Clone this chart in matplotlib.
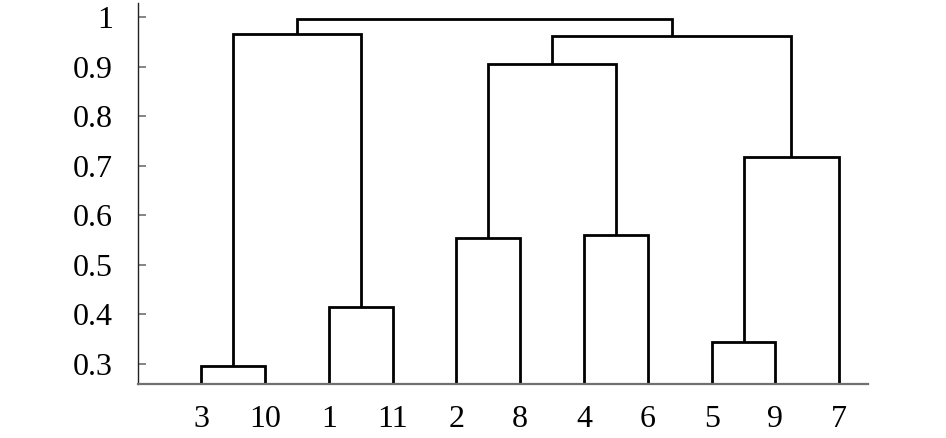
import matplotlib
matplotlib.use("Agg")
import matplotlib.pyplot as plt

# Leaf order (left to right) and their labels
leaf_labels = ["3", "10", "1", "11", "2", "8", "4", "6", "5", "9", "7"]

# Merges: (left child, right child, height). Leaves are referenced by label,
# internal nodes by "c<k>" (k = merge index).
merge_left = ["3", "1", "5", "2", "4", "c2", "c3", "c0", "c6"]
merge_right = ["10", "11", "9", "8", "6", "7", "c4", "c1", "c5"]
merge_height = [0.296, 0.416, 0.344, 0.555, 0.561, 0.718, 0.905, 0.965, 0.962]
# root merge
root_left = "c7"
root_right = "c8"
root_height = 0.995

ytick_vals = [0.3, 0.4, 0.5, 0.6, 0.7, 0.8, 0.9, 1.0]
ytick_labels = ["0.3", "0.4", "0.5", "0.6", "0.7", "0.8", "0.9", "1"]

plt.rcParams["font.family"] = ["Liberation Serif", "DejaVu Serif"]

fig = plt.figure(figsize=(9.46, 4.38), dpi=100)
ax = fig.add_axes([0.1459, 0.1233, 0.9175 - 0.1459, 0.9924 - 0.1233])

base = 0.2597
pos = {lab: i for i, lab in enumerate(leaf_labels)}
hgt = {lab: base for lab in leaf_labels}

lw = 2.0
def draw(l, r, h):
    xl, xr = pos[l], pos[r]
    ax.plot([xl, xl, xr, xr], [hgt[l], h, h, hgt[r]], color="black",
            lw=lw, solid_joinstyle="miter", solid_capstyle="butt")
    return (xl + xr) / 2.0

for k, (l, r, h) in enumerate(zip(merge_left, merge_right, merge_height)):
    name = "c%d" % k
    pos[name] = draw(l, r, h)
    hgt[name] = h

draw(root_left, root_right, root_height)

ax.set_xlim(-0.99, 10.45)
ax.set_ylim(0.2597, 1.0276)
ax.set_xticks(range(len(leaf_labels)))
ax.set_xticklabels(leaf_labels)
ax.set_yticks(ytick_vals)
ax.set_yticklabels(ytick_labels)

ax.spines["top"].set_visible(False)
ax.spines["right"].set_visible(False)
ax.spines["left"].set_color("#222222")
ax.spines["left"].set_linewidth(1.0)
ax.spines["bottom"].set_color("#707070")
ax.spines["bottom"].set_linewidth(1.6)

ax.tick_params(axis="y", direction="in", length=7.7 * 0.72, width=1.2,
               color="#707070", labelsize=23, pad=18)
ax.tick_params(axis="x", length=0, labelsize=23, pad=15)

fig.savefig("out.png", dpi=100)
